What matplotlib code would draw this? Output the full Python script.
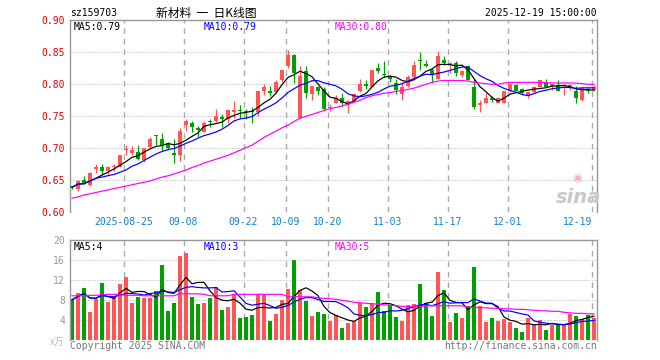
import matplotlib
matplotlib.use('Agg')
import matplotlib.pyplot as plt
import numpy as np
import pandas as pd

# ---------------- data ----------------
opens = [0.640, 0.636, 0.650, 0.643, 0.668, 0.671, 0.664, 0.670, 0.671, 0.697,
         0.693, 0.694, 0.681, 0.702, 0.720, 0.715, 0.707, 0.693, 0.690, 0.736,
         0.739, 0.732, 0.726, 0.742, 0.742, 0.749, 0.745, 0.757, 0.760, 0.758,
         0.758, 0.757, 0.790, 0.790, 0.788, 0.806, 0.828, 0.846, 0.748, 0.821,
         0.785, 0.795, 0.792, 0.763, 0.771, 0.778, 0.768, 0.774, 0.790, 0.801,
         0.796, 0.825, 0.816, 0.812, 0.802, 0.785, 0.797, 0.811, 0.837, 0.831,
         0.823, 0.809, 0.838, 0.830, 0.833, 0.815, 0.829, 0.796, 0.768, 0.771,
         0.778, 0.771, 0.771, 0.789, 0.799, 0.792, 0.781, 0.788, 0.796, 0.804,
         0.797, 0.799, 0.797, 0.797, 0.789, 0.775, 0.792, 0.791]
highs = [0.641, 0.650, 0.656, 0.663, 0.676, 0.676, 0.672, 0.676, 0.690, 0.705,
         0.704, 0.705, 0.701, 0.717, 0.721, 0.724, 0.710, 0.715, 0.731, 0.745,
         0.743, 0.735, 0.743, 0.746, 0.761, 0.754, 0.762, 0.774, 0.767, 0.762,
         0.764, 0.790, 0.800, 0.797, 0.806, 0.823, 0.854, 0.847, 0.829, 0.829,
         0.798, 0.797, 0.795, 0.769, 0.783, 0.787, 0.775, 0.787, 0.809, 0.807,
         0.823, 0.834, 0.836, 0.815, 0.808, 0.803, 0.815, 0.837, 0.850, 0.838,
         0.825, 0.852, 0.844, 0.835, 0.837, 0.823, 0.830, 0.809, 0.776, 0.786,
         0.782, 0.780, 0.790, 0.802, 0.800, 0.794, 0.790, 0.797, 0.807, 0.808,
         0.801, 0.806, 0.800, 0.801, 0.797, 0.796, 0.795, 0.799]
lows = [0.636, 0.634, 0.644, 0.641, 0.662, 0.659, 0.656, 0.664, 0.670, 0.690,
        0.690, 0.682, 0.679, 0.700, 0.705, 0.696, 0.697, 0.677, 0.680, 0.727,
        0.726, 0.718, 0.725, 0.733, 0.739, 0.734, 0.739, 0.748, 0.748, 0.745,
        0.740, 0.750, 0.783, 0.781, 0.786, 0.804, 0.825, 0.802, 0.747, 0.778,
        0.775, 0.783, 0.760, 0.759, 0.770, 0.766, 0.755, 0.773, 0.788, 0.792,
        0.795, 0.817, 0.812, 0.803, 0.785, 0.776, 0.796, 0.809, 0.823, 0.827,
        0.802, 0.808, 0.830, 0.817, 0.813, 0.812, 0.806, 0.761, 0.756, 0.770,
        0.773, 0.770, 0.770, 0.788, 0.789, 0.784, 0.778, 0.786, 0.795, 0.795,
        0.791, 0.789, 0.783, 0.791, 0.770, 0.774, 0.787, 0.789]
closes = [0.639, 0.649, 0.646, 0.662, 0.670, 0.664, 0.671, 0.672, 0.690, 0.699,
          0.697, 0.684, 0.700, 0.715, 0.719, 0.703, 0.701, 0.689, 0.727, 0.743,
          0.733, 0.728, 0.740, 0.741, 0.750, 0.746, 0.760, 0.760, 0.758, 0.756,
          0.756, 0.789, 0.796, 0.786, 0.804, 0.822, 0.846, 0.817, 0.813, 0.786,
          0.797, 0.790, 0.762, 0.764, 0.778, 0.770, 0.774, 0.785, 0.801, 0.798,
          0.822, 0.821, 0.814, 0.808, 0.791, 0.796, 0.811, 0.830, 0.836, 0.828,
          0.815, 0.844, 0.833, 0.834, 0.818, 0.821, 0.807, 0.765, 0.770, 0.779,
          0.776, 0.778, 0.789, 0.801, 0.790, 0.787, 0.788, 0.796, 0.806, 0.796,
          0.800, 0.790, 0.798, 0.798, 0.778, 0.794, 0.789, 0.795]
volumes = [8.1, 9.5, 10.5, 5.7, 8.3, 11.5, 7.7, 8.7, 11.3, 12.7,
           7.5, 8.7, 8.5, 8.5, 9.9, 15.1, 5.9, 7.5, 16.9, 17.5,
           8.7, 7.3, 7.5, 8.5, 10.7, 6.1, 6.7, 9.1, 4.5, 4.7,
           5.1, 9.3, 9.3, 3.9, 5.3, 8.1, 10.3, 16.1, 10.1, 7.9,
           4.9, 5.7, 5.3, 3.9, 5.1, 2.5, 3.5, 3.9, 7.4, 6.7,
           7.4, 9.7, 5.9, 6.9, 4.7, 3.9, 7.1, 7.3, 11.3, 7.5,
           4.9, 13.7, 10.1, 3.7, 5.5, 4.5, 6.9, 14.7, 6.9, 3.7,
           4.5, 3.9, 4.3, 3.7, 2.5, 1.7, 4.5, 3.1, 4.1, 2.1,
           3.1, 3.3, 3.1, 5.3, 4.9, 4.3, 5.1, 4.5]
ma30_price = [0.622, 0.624, 0.627, 0.629, 0.631, 0.633, 0.635, 0.637, 0.639, 0.641,
              0.643, 0.645, 0.647, 0.649, 0.652, 0.655, 0.657, 0.660, 0.663, 0.666,
              0.670, 0.673, 0.677, 0.680, 0.683, 0.686, 0.689, 0.693, 0.697, 0.701,
              0.705, 0.711, 0.717, 0.722, 0.727, 0.732, 0.736, 0.742, 0.747, 0.750,
              0.753, 0.756, 0.759, 0.762, 0.764, 0.766, 0.769, 0.772, 0.775, 0.779,
              0.782, 0.784, 0.786, 0.787, 0.789, 0.790, 0.792, 0.794, 0.797, 0.800,
              0.803, 0.805, 0.806, 0.806, 0.806, 0.806, 0.805, 0.803, 0.802, 0.801,
              0.800, 0.800, 0.802, 0.803, 0.803, 0.803, 0.803, 0.803, 0.803, 0.803,
              0.802, 0.802, 0.802, 0.802, 0.802, 0.801, 0.800, 0.800]
ma30_vol = [8.9, 8.9, 8.9, 9.0, 9.0, 9.1, 9.2, 9.2, 9.1, 9.0,
            9.0, 9.0, 8.9, 8.9, 8.9, 8.9, 8.9, 8.9, 9.3, 9.3,
            9.3, 9.3, 9.2, 8.9, 8.9, 8.9, 8.9, 9.2, 9.2, 9.2,
            9.2, 9.2, 9.2, 9.2, 9.2, 9.2, 8.7, 8.7, 8.7, 8.7,
            8.7, 8.5, 8.4, 8.3, 8.2, 8.0, 7.8, 7.6, 7.5, 7.4,
            7.3, 7.2, 7.1, 7.0, 6.9, 6.8, 6.7, 6.8, 6.8, 6.9,
            6.9, 6.9, 6.9, 6.9, 6.9, 6.9, 6.6, 6.6, 6.5, 6.5,
            6.4, 6.4, 6.3, 6.3, 6.2, 6.2, 6.1, 6.0, 5.9, 5.9,
            5.8, 5.8, 5.6, 5.5, 5.4, 5.4, 5.3, 5.3]
tick_idx = [9, 19, 29, 36, 43, 53, 63, 73, 87]
tick_labels = ['2025-08-25', '09-08', '09-22', '10-09', '10-20', '11-03', '11-17', '12-01', '12-19']
price_ticks = [0.60, 0.65, 0.70, 0.75, 0.80, 0.85, 0.90]
vol_ticks = [4, 8, 12, 16, 20]

# ---------------- styling ----------------
RED = '#FF5555'
GREEN = '#00A000'
GRID = '#AAAAAA'
FRAME = '#999999'
XBLUE = '#1080D0'
MONO = 'DejaVu Sans Mono'
CJK = ['Noto Sans CJK SC', 'DejaVu Sans']
PX = 0.72  # one pixel in points at dpi 100

W, H = 660, 360
fig = plt.figure(figsize=(W / 100, H / 100), dpi=100)
fig.patch.set_facecolor('white')


def rect(x0, y0, x1, y1):
    return [x0 / W, 1 - y1 / H, (x1 - x0) / W, (y1 - y0) / H]


def ftext(x, y, s, **kw):
    fig.text(x / W, 1 - y / H, s, **kw)


o = np.array(opens); h = np.array(highs); l = np.array(lows); c = np.array(closes)
v = np.array(volumes)
n = len(c)
idx = np.arange(n)
up = c >= o
cols = np.where(up, RED, GREEN)

ma5 = pd.Series(c).rolling(5, min_periods=1).mean().values
ma10 = pd.Series(c).rolling(10, min_periods=1).mean().values
vma5 = pd.Series(v).rolling(5, min_periods=1).mean().values
vma10 = pd.Series(v).rolling(10, min_periods=1).mean().values

XL = (-1.0 / 3, 87.5)

# ---------------- price panel ----------------
axp = fig.add_axes(rect(70, 20.3, 597, 212.3))
axp.set_xlim(*XL)
axp.set_ylim(0.60, 0.90)
for y in price_ticks[1:-1]:
    axp.axhline(y, color=GRID, lw=PX, dashes=(1, 2), zorder=0)
for t in tick_idx:
    axp.axvline(t - 0.28, color=GRID, lw=PX * 1.4, dashes=(4, 3.5), zorder=0)

axp.vlines(idx, l, h, colors=cols, lw=PX * 1.2, zorder=2)
body_b = np.minimum(o, c)
body_h = np.maximum(np.abs(c - o), 0.0016)
axp.bar(idx, body_h, bottom=body_b, width=0.75, color=cols, lw=0, zorder=3)

axp.plot(idx, ma5, color='black', lw=PX * 1.2, zorder=4)
axp.plot(idx, ma10, color='#0000FF', lw=PX * 1.2, zorder=4)
axp.plot(idx, ma30_price, color='#FF00FF', lw=PX * 1.2, zorder=4)

axp.set_xticks([]); axp.set_yticks([])
for s in ['left', 'right', 'top']:
    axp.spines[s].set_color(FRAME)
    axp.spines[s].set_linewidth(PX * 1.4)
axp.spines['bottom'].set_visible(False)

# ---------------- volume panel ----------------
axv = fig.add_axes(rect(70, 240.3, 597, 340.3))
axv.set_xlim(*XL)
axv.set_ylim(0, 20)
for y in vol_ticks[:-1]:
    axv.axhline(y, color=GRID, lw=PX, dashes=(1, 2), zorder=0)
for t in tick_idx:
    axv.axvline(t - 0.28, color=GRID, lw=PX * 1.4, dashes=(4, 3.5), zorder=0)
axv.bar(idx, v, width=0.83, color=cols, lw=0, zorder=2)
axv.plot(idx, vma5, color='black', lw=PX * 1.2, zorder=4)
axv.plot(idx, vma10, color='#0000FF', lw=PX * 1.2, zorder=4)
axv.plot(idx, ma30_vol, color='#FF00FF', lw=PX * 1.2, zorder=4)
axv.set_xticks([]); axv.set_yticks([])
for s in ['left', 'right', 'top']:
    axv.spines[s].set_color(FRAME)
    axv.spines[s].set_linewidth(PX * 1.4)
axv.spines['bottom'].set_visible(False)

# ---------------- texts ----------------
FS = 7
ftext(70, 13, 'sz159703', fontsize=FS, family=MONO, va='center', ha='left', color='black')
ftext(206, 13, '新材料  一  日K线图', fontsize=8.5, family=CJK, va='center', ha='center', color='black')
ftext(597, 13, '2025-12-19 15:00:00', fontsize=FS, family=MONO, va='center', ha='right', color='black')

for p in price_ticks:
    y = 212.3 - (p - 0.60) * 640
    ftext(65, y + 1, f'{p:.2f}', fontsize=FS, family=MONO, va='center', ha='right', color='#E00000')

for k, (t, lab) in enumerate(zip(tick_idx, tick_labels)):
    x = 72 + 6 * t - 2.5
    if k == len(tick_idx) - 1:
        ftext(592, 222, lab, fontsize=FS, family=MONO, va='center', ha='right', color=XBLUE)
    else:
        ftext(x, 222, lab, fontsize=FS, family=MONO, va='center', ha='center', color=XBLUE)

ftext(74, 26.5, 'MA5:0.79', fontsize=FS, family=MONO, va='center', ha='left', color='black')
ftext(204, 26.5, 'MA10:0.79', fontsize=FS, family=MONO, va='center', ha='left', color='#0000FF')
ftext(335, 26.5, 'MA30:0.80', fontsize=FS, family=MONO, va='center', ha='left', color='#FF00FF')

for vt in vol_ticks:
    y = 340.3 - vt * 5
    ftext(65, y + 0.5, f'{vt}', fontsize=FS, family=MONO, va='center', ha='right', color='#999999')
ftext(64, 342, 'x万', fontsize=7, family=CJK, va='center', ha='right', color='#BBBBBB')

ftext(74, 246.5, 'MA5:4', fontsize=FS, family=MONO, va='center', ha='left', color='black')
ftext(204, 246.5, 'MA10:3', fontsize=FS, family=MONO, va='center', ha='left', color='#0000FF')
ftext(335, 246.5, 'MA30:5', fontsize=FS, family=MONO, va='center', ha='left', color='#FF00FF')

ftext(70, 346, 'Copyright 2025 SINA.COM', fontsize=FS, family=MONO, va='center', ha='left', color='#777777')
ftext(597, 346, 'http://finance.sina.com.cn', fontsize=FS, family=MONO, va='center', ha='right', color='#777777')

# sina watermark
ftext(578, 197, 'sina', fontsize=14, family='DejaVu Sans', style='italic', weight='bold',
      va='center', ha='center', color='#C8C8C8')
ftext(577, 178, '◉', fontsize=8, family='DejaVu Sans', va='center', ha='center', color='#F2B5B5')

fig.savefig('out.png', dpi=100, facecolor='white')
